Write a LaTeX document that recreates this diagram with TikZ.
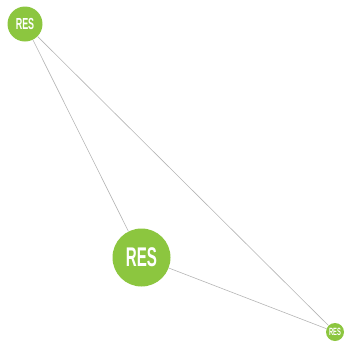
\documentclass[tikz,border=0pt]{standalone}
\usepackage{fontspec}
\setmainfont{Liberation Sans}
\definecolor{resgreen}{HTML}{8CC63F}
\definecolor{edgegray}{HTML}{B5B5B5}
\begin{document}
\begin{tikzpicture}[x=1pt,y=-1pt,
  resnode/.style={circle,fill=resgreen,inner sep=0pt,text=white,font=\bfseries},
  edge/.style={draw=edgegray,line width=0.6pt}]
\useasboundingbox (0,0) rectangle (345,346);
\node[resnode,minimum size=35pt] (a) at (25,24) {\fontsize{16}{16}\selectfont\scalebox{0.56}[1]{RES}};
\node[resnode,minimum size=58pt] (b) at (141.5,257.5) {\fontsize{27}{27}\selectfont\scalebox{0.56}[1]{RES}};
\node[resnode,minimum size=18pt] (c) at (335,332) {\fontsize{10.5}{10.5}\selectfont\scalebox{0.55}[1]{RES}};
\draw[edge] (a) -- (b);
\draw[edge] (a) -- (c);
\draw[edge] (b) -- (c);
\end{tikzpicture}
\end{document}
